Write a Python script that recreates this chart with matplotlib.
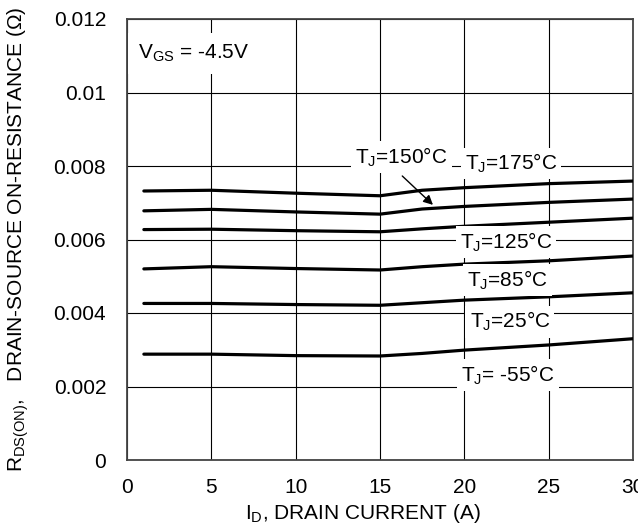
import matplotlib

matplotlib.use("Agg")
import matplotlib.pyplot as plt

plt.rcParams.update(
    {
        "font.family": ["Liberation Sans", "DejaVu Sans"],
        "mathtext.fontset": "custom",
        "mathtext.rm": "Liberation Sans",
        "mathtext.it": "Liberation Sans",
        "font.size": 15,
    }
)

# Drain current (A)
current = [1, 5, 10, 15, 17.5, 20, 25, 30]

# On-resistance (Ohm) per junction temperature
r_175 = [0.00732, 0.00734, 0.00726, 0.00719, 0.00734, 0.00741, 0.00752, 0.00759]
r_150 = [0.00678, 0.00682, 0.00675, 0.00669, 0.00683, 0.00690, 0.00701, 0.00710]
r_125 = [0.00627, 0.00628, 0.00624, 0.00621, 0.00629, 0.00636, 0.00647, 0.00658]
r_85 = [0.00520, 0.00526, 0.00521, 0.00517, 0.00526, 0.00533, 0.00542, 0.00555]
r_25 = [0.00426, 0.00426, 0.00423, 0.00421, 0.00428, 0.00435, 0.00444, 0.00455]
r_m55 = [0.00288, 0.00288, 0.00284, 0.00283, 0.00290, 0.00299, 0.00313, 0.00330]

x_ticks = [0, 5, 10, 15, 20, 25, 30]
y_ticks = [0, 0.002, 0.004, 0.006, 0.008, 0.01, 0.012]
y_tick_labels = ["0", "0.002", "0.004", "0.006", "0.008", "0.01", "0.012"]

fig = plt.figure(figsize=(6.38, 5.29), dpi=100)
ax = fig.add_axes([127 / 638, 69 / 529, 506 / 638, 441 / 529])

for series in [r_175, r_150, r_125, r_85, r_25, r_m55]:
    ax.plot(current, series, color="black", lw=2.3, solid_capstyle="round", zorder=3)

ax.set_xlim(0, 30)
ax.set_ylim(0, 0.012)
ax.set_xticks(x_ticks)
ax.set_yticks(y_ticks)
ax.set_yticklabels(y_tick_labels)
ax.tick_params(length=0, labelsize=15)
ax.tick_params(axis="y", pad=15)
ax.tick_params(axis="x", pad=13)
ax.grid(True, color="black", lw=0.8)
ax.set_axisbelow(True)
for sp in ax.spines.values():
    sp.set_color("#444444")
    sp.set_linewidth(1.3)

box = dict(facecolor="white", edgecolor="none", pad=3)

ax.text(0.65, 0.01107, r"V$_{\mathregular{GS}}$ = -4.5V", ha="left", va="center",
        bbox=dict(facecolor="white", edgecolor="none", pad=7), zorder=4)

labels = [
    (16.27, 0.00824, r"T$_{\mathregular{J}}$=150°C"),
    (22.76, 0.00807, r"T$_{\mathregular{J}}$=175°C"),
    (22.47, 0.00593, r"T$_{\mathregular{J}}$=125°C"),
    (22.55, 0.00490, r"T$_{\mathregular{J}}$=85°C"),
    (22.70, 0.00376, r"T$_{\mathregular{J}}$=25°C"),
    (22.60, 0.00231, r"T$_{\mathregular{J}}$= -55°C"),
]
for x, y, s in labels:
    ax.text(x, y, s, ha="center", va="center", bbox=box, zorder=4)

ax.annotate("", xy=(18.26, 0.00689), xytext=(16.2, 0.00778),
            arrowprops=dict(arrowstyle="-|>", color="black", lw=1, mutation_scale=14),
            zorder=5)

ax.set_xlabel(r"I$_{\mathregular{D}}$, DRAIN CURRENT (A)")
ax.xaxis.set_label_coords((363 - 127) / 506, -0.095)
ax.set_ylabel(r"R$_{\mathregular{DS(ON)}}$,   DRAIN-SOURCE ON-RESISTANCE (Ω)")
ax.yaxis.set_label_coords(-0.19, 0.5)

fig.savefig("out.png", dpi=100)
